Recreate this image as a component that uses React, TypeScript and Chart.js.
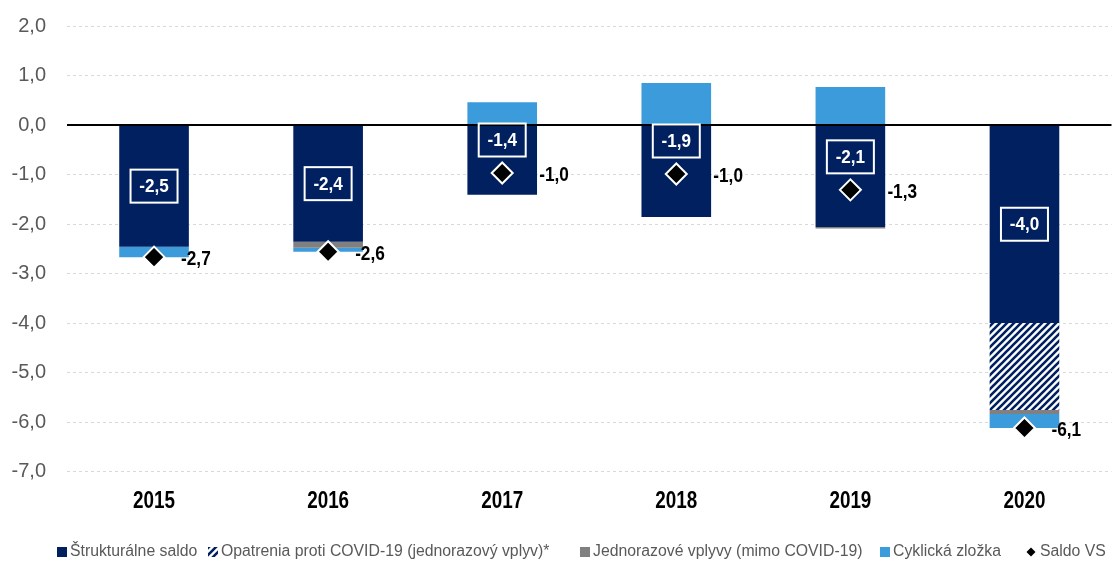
import React, { useEffect, useRef } from "react";
import { Chart, registerables } from "chart.js";

Chart.register(...registerables);

const categories = ["2015", "2016", "2017", "2018", "2019", "2020"];
const structural = [-2.46, -2.36, -1.41, -1.86, -2.06, -4.0];
const covidMeasures = [null, null, null, null, null, -1.76];
const oneOff = [null, -0.12, null, null, -0.03, -0.08];
const cyclical = [-0.21, -0.08, 0.46, 0.85, 0.77, -0.28];
const saldo = [-2.67, -2.56, -0.97, -0.99, -1.31, -6.12];
const yTicks = [2, 1, 0, -1, -2, -3, -4, -5, -6, -7];
const legendLabels = [
  "Štrukturálne saldo",
  "Opatrenia proti COVID-19 (jednorazový vplyv)*",
  "Jednorazové vplyvy (mimo COVID-19)",
  "Cyklická zložka",
  "Saldo VS",
];

const NAVY = "#002060";
const BLUE = "#3C9BDB";
const GRAY = "#808080";
const SANS = "'Liberation Sans', Arial, sans-serif";

const fmt = (v: number) => v.toFixed(1).replace(".", ",");

function makeHatch(): CanvasPattern | string {
  const c = document.createElement("canvas");
  c.width = 7;
  c.height = 7;
  const g = c.getContext("2d");
  if (!g) return NAVY;
  g.fillStyle = "#ffffff";
  g.fillRect(0, 0, 7, 7);
  g.strokeStyle = NAVY;
  g.lineWidth = 2.6;
  g.beginPath();
  g.moveTo(-2, 9);
  g.lineTo(9, -2);
  g.moveTo(-2, 2);
  g.lineTo(2, -2);
  g.moveTo(5, 9);
  g.lineTo(9, 5);
  g.stroke();
  return g.createPattern(c, "repeat") || NAVY;
}

function narrowText(ctx: CanvasRenderingContext2D, t: string, x: number, y: number, sx: number) {
  ctx.save();
  ctx.translate(x, y);
  ctx.scale(sx, 1);
  ctx.fillText(t, 0, 0);
  ctx.restore();
}

export default function App() {
  const ref = useRef<HTMLCanvasElement | null>(null);

  useEffect(() => {
    if (!ref.current) return;
    const hatch = makeHatch();

    const overlay = {
      id: "overlay",
      afterDatasetsDraw(chart: any) {
        const ctx = chart.ctx;
        const y = chart.scales.y;
        const area = chart.chartArea;
        const y0 = y.getPixelForValue(0);
        ctx.save();
        ctx.strokeStyle = "#000";
        ctx.lineWidth = 2;
        ctx.beginPath();
        ctx.moveTo(area.left, y0);
        ctx.lineTo(area.right, y0);
        ctx.stroke();
        ctx.restore();
      },
      afterDraw(chart: any) {
        const ctx = chart.ctx;
        const x = chart.scales.x;
        const y = chart.scales.y;
        const meta0 = chart.getDatasetMeta(0);
        ctx.save();
        categories.forEach((cat, i) => {
          const bar = meta0.data[i];
          const cx = bar.x;
          const center = (bar.y + bar.base) / 2;
          const py = y.getPixelForValue(saldo[i]);
          const negSum =
            (structural[i] || 0) +
            (covidMeasures[i] || 0) +
            (oneOff[i] || 0) +
            (cyclical[i] < 0 ? cyclical[i] : 0);
          const bottomPx = y.getPixelForValue(negSum);
          let ly = center;
          if (Math.abs(py - center) < 45) ly = py - 33;
          const w = 47;
          const h = 33;
          ctx.strokeStyle = "#fff";
          ctx.lineWidth = 2;
          ctx.strokeRect(cx - w / 2, ly - h / 2, w, h);
          ctx.fillStyle = "#fff";
          ctx.font = `bold 19px ${SANS}`;
          ctx.textAlign = "center";
          ctx.textBaseline = "middle";
          narrowText(ctx, fmt(structural[i]), cx, ly + 1, 0.9);
          const off = bottomPx - py > 10 ? 37 : 27;
          ctx.fillStyle = "#000";
          ctx.font = `bold 21px ${SANS}`;
          ctx.textAlign = "left";
          narrowText(ctx, fmt(saldo[i]), cx + off, py + 2, 0.82);
          ctx.fillStyle = "#000";
          ctx.font = `bold 23px ${SANS}`;
          ctx.textAlign = "center";
          narrowText(ctx, cat, x.getPixelForValue(i), 502, 0.82);
        });

        const ly = 552;
        const xs = [57, 208, 580, 880, 1027];
        const fills: any[] = [NAVY, hatch, GRAY, BLUE, "#000"];
        ctx.font = `15.8px ${SANS}`;
        ctx.textAlign = "left";
        ctx.textBaseline = "middle";
        legendLabels.forEach((t, k) => {
          const bx = xs[k];
          if (k === 4) {
            ctx.fillStyle = "#000";
            ctx.beginPath();
            ctx.moveTo(bx + 4, ly - 4.5);
            ctx.lineTo(bx + 8.5, ly);
            ctx.lineTo(bx + 4, ly + 4.5);
            ctx.lineTo(bx - 0.5, ly);
            ctx.closePath();
            ctx.fill();
          } else {
            ctx.fillStyle = fills[k];
            ctx.fillRect(bx, ly - 5, 10, 10);
          }
          ctx.fillStyle = "#595959";
          ctx.fillText(t, bx + 13, ly);
        });
        ctx.restore();
      },
    };

    const chart = new Chart(ref.current, {
      type: "bar",
      data: {
        labels: categories,
        datasets: [
          { label: legendLabels[0], data: structural, backgroundColor: NAVY, stack: "s" },
          { label: legendLabels[1], data: covidMeasures, backgroundColor: hatch as any, stack: "s" },
          { label: legendLabels[2], data: oneOff, backgroundColor: GRAY, stack: "s" },
          { label: legendLabels[3], data: cyclical, backgroundColor: BLUE, stack: "s" },
          {
            type: "line",
            label: legendLabels[4],
            data: saldo,
            stack: "saldo",
            order: -1,
            showLine: false,
            pointStyle: "rectRot",
            pointRadius: 10.5,
            pointHoverRadius: 10.5,
            pointBackgroundColor: "#000",
            pointBorderColor: "#fff",
            pointBorderWidth: 2,
            borderColor: "#000",
            backgroundColor: "#000",
          } as any,
        ],
      },
      options: {
        responsive: false,
        animation: false,
        devicePixelRatio: 1,
        layout: { padding: { top: 26, bottom: 29.5, left: 0, right: 0 } },
        datasets: {
          bar: { barPercentage: 0.4, categoryPercentage: 1.0 },
        },
        plugins: {
          legend: { display: false },
          tooltip: { enabled: false },
        },
        scales: {
          x: {
            stacked: true,
            grid: { display: false },
            border: { display: false },
            ticks: { display: false },
            afterFit(s: any) {
              s.height = 60;
              s.paddingLeft = 0;
              s.paddingRight = 0;
            },
          },
          y: {
            stacked: true,
            min: -7,
            max: 2,
            afterBuildTicks(s: any) {
              s.ticks = yTicks.map((v) => ({ value: v }));
            },
            grid: {
              drawTicks: false,
              color: (c: any) => (c.tick && c.tick.value === 0 ? "rgba(0,0,0,0)" : "#d9d9d9"),
              lineWidth: 1,
            },
            border: { display: false, dash: [3, 3] },
            ticks: {
              color: "#595959",
              font: { family: SANS, size: 20 },
              padding: 21,
              callback: (v: any) => fmt(Number(v)),
            },
            afterFit(s: any) {
              s.width = 67;
              s.paddingTop = 0;
              s.paddingBottom = 0;
            },
          },
        },
      },
      plugins: [overlay],
    });
    return () => chart.destroy();
  }, []);

  return (
    <div style={{ position: "absolute", left: 0, top: 0, width: 1114, height: 561, overflow: "hidden", background: "#fff" }}>
      <canvas ref={ref} width={1124} height={561} style={{ display: "block" }} />
    </div>
  );
}
